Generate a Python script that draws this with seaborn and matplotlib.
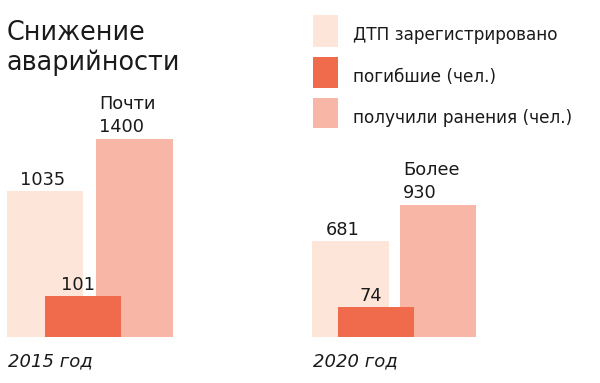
import matplotlib
matplotlib.use("Agg")
import matplotlib.pyplot as plt
from matplotlib.patches import Rectangle
import seaborn as sns

# ---- data ----
years = ["2015 год", "2020 год"]
series_labels = ["ДТП зарегистрировано", "погибшие (чел.)", "получили ранения (чел.)"]
accidents = [1035, 681]
deaths = [101, 74]
injured = [1400, 930]
injured_prefix = ["Почти", "Более"]
title_lines = ["Снижение", "аварийности"]

colors = ["#FDE5DA", "#F06B4C", "#F7B6A6"]

sns.set_theme(style="white")
plt.rcParams["font.family"] = ["DejaVu Sans"]

W, H = 600, 383
fig = plt.figure(figsize=(W / 100, H / 100), dpi=100)

base_px = 46      # bar baseline from figure bottom (px)
top_px = H        # axes top
ax = fig.add_axes([0, base_px / H, 1, (top_px - base_px) / H])
ax2 = ax.twinx()

bar_w = 0.249
# horizontal offsets of each series inside a year group (layout only)
offsets = [[0.0, 0.0], [0.124, 0.083], [0.293, 0.286]]
group_pos = list(range(len(years)))

def positions(k):
    return [g + offsets[k][g] for g in group_pos]

def draw(k, vals, axis):
    pos = positions(k)
    spacing = pos[1] - pos[0]
    sns.barplot(x=pos, y=vals, native_scale=True, width=bar_w / spacing,
                color=colors[k], saturation=1, linewidth=0, edgecolor="none",
                ax=axis)

# main scale for accidents & injured, secondary scale for deaths
draw(0, accidents, ax)
draw(2, injured, ax)
draw(1, deaths, ax2)

xlim = (-0.1473, 1.8167)
ax.set_xlim(*xlim)
ax2.set_xlim(*xlim)
ax.set_ylim(0, (top_px - base_px) / 0.1414)
ax2.set_ylim(0, (top_px - base_px) / 0.406)
for a in (ax, ax2):
    a.set_axis_off()

px = 0.72  # points per pixel
lab_fs = 12.8
txt_color = "#1a1a1a"

for i in group_pos:
    left0 = positions(0)[i] - bar_w / 2
    ax.annotate(str(accidents[i]), xy=(left0, accidents[i]),
                xytext=(13 * px, 6 * px), textcoords="offset points",
                ha="left", va="baseline", fontsize=lab_fs, color=txt_color)
    c1 = positions(1)[i]
    ax2.annotate(str(deaths[i]), xy=(c1, deaths[i]),
                 xytext=(-5 * px, 6 * px), textcoords="offset points",
                 ha="center", va="baseline", fontsize=lab_fs, color=txt_color)
    left2 = positions(2)[i] - bar_w / 2
    ax.annotate(str(injured[i]), xy=(left2, injured[i]),
                xytext=(3 * px, 7 * px), textcoords="offset points",
                ha="left", va="baseline", fontsize=lab_fs, color=txt_color)
    ax.annotate(injured_prefix[i], xy=(left2, injured[i]),
                xytext=(3 * px, 30 * px), textcoords="offset points",
                ha="left", va="baseline", fontsize=lab_fs, color=txt_color)
    ax.annotate(years[i], xy=(left0, 0),
                xytext=(1 * px, -29 * px), textcoords="offset points",
                ha="left", va="baseline", fontsize=13, style="italic",
                color=txt_color, annotation_clip=False)

# title
for line, base in zip(title_lines, [40, 70.5]):
    fig.text(7 / W, 1 - base / H, line, fontsize=18.4, color=txt_color, va="baseline")

# legend (drawn by hand)
sq_top = [15, 57, 98]
sq_h = [32, 31, 30]
txt_base = [39.5, 81.5, 123]
for c, lab, t, h, b in zip(colors, series_labels, sq_top, sq_h, txt_base):
    fig.patches.append(Rectangle((313 / W, 1 - (t + h) / H), 25 / W, h / H,
                                 facecolor=c, edgecolor="none",
                                 transform=fig.transFigure, figure=fig))
    fig.text(353 / W, 1 - b / H, lab, fontsize=12.2, color=txt_color, va="baseline")

fig.savefig("out.png", dpi=100)
